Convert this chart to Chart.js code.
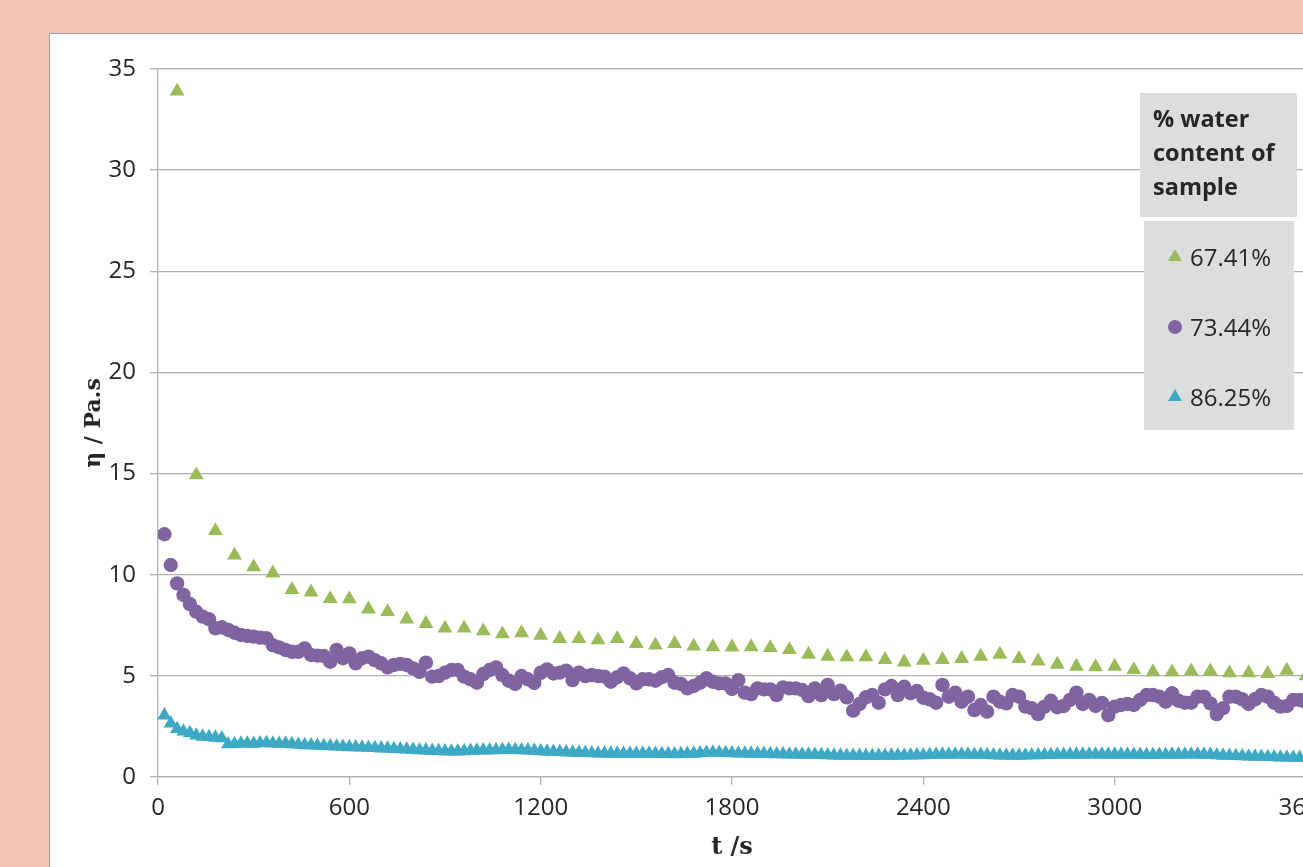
<!DOCTYPE html>
<html>
<head>
<meta charset="utf-8">
<title>Viscosity vs time</title>
<script src="https://cdn.jsdelivr.net/npm/chart.js@4.4.1/dist/chart.umd.min.js"></script>
<style>
  html, body { margin: 0; padding: 0; }
  body { width: 1303px; height: 867px; overflow: hidden; background: #F1C4B5; position: relative; }
  #panel { position: absolute; left: 49px; top: 33px; width: 1400px; height: 900px;
           background: #FFFFFF; border-left: 1px solid #A3A3A3; border-top: 1px solid #A3A3A3; }
  #chart { position: absolute; left: 0; top: 0; }
</style>
</head>
<body>
<div id="panel"></div>
<canvas id="chart" width="1400" height="900"></canvas>
<script>
"use strict";

// ── Sample times (s) ──
const T_FINE = [
  20, 40, 60, 80, 100, 120, 140, 160, 180, 200,
  220, 240, 260, 280, 300, 320, 340, 360, 380, 400,
  420, 440, 460, 480, 500, 520, 540, 560, 580, 600,
  620, 640, 660, 680, 700, 720, 740, 760, 780, 800,
  820, 840, 860, 880, 900, 920, 940, 960, 980, 1000,
  1020, 1040, 1060, 1080, 1100, 1120, 1140, 1160, 1180, 1200,
  1220, 1240, 1260, 1280, 1300, 1320, 1340, 1360, 1380, 1400,
  1420, 1440, 1460, 1480, 1500, 1520, 1540, 1560, 1580, 1600,
  1620, 1640, 1660, 1680, 1700, 1720, 1740, 1760, 1780, 1800,
  1820, 1840, 1860, 1880, 1900, 1920, 1940, 1960, 1980, 2000,
  2020, 2040, 2060, 2080, 2100, 2120, 2140, 2160, 2180, 2200,
  2220, 2240, 2260, 2280, 2300, 2320, 2340, 2360, 2380, 2400,
  2420, 2440, 2460, 2480, 2500, 2520, 2540, 2560, 2580, 2600,
  2620, 2640, 2660, 2680, 2700, 2720, 2740, 2760, 2780, 2800,
  2820, 2840, 2860, 2880, 2900, 2920, 2940, 2960, 2980, 3000,
  3020, 3040, 3060, 3080, 3100, 3120, 3140, 3160, 3180, 3200,
  3220, 3240, 3260, 3280, 3300, 3320, 3340, 3360, 3380, 3400,
  3420, 3440, 3460, 3480, 3500, 3520, 3540, 3560, 3580, 3600
];

const T_COARSE = [
  60, 120, 180, 240, 300, 360, 420, 480, 540, 600,
  660, 720, 780, 840, 900, 960, 1020, 1080, 1140, 1200,
  1260, 1320, 1380, 1440, 1500, 1560, 1620, 1680, 1740, 1800,
  1860, 1920, 1980, 2040, 2100, 2160, 2220, 2280, 2340, 2400,
  2460, 2520, 2580, 2640, 2700, 2760, 2820, 2880, 2940, 3000,
  3060, 3120, 3180, 3240, 3300, 3360, 3420, 3480, 3540, 3600
];

// ── Viscosity (Pa.s) per sample ──
const ETA_6741 = [
  33.9, 14.93, 12.17, 10.96, 10.38, 10.08, 9.26, 9.14, 8.81, 8.8,
  8.3, 8.17, 7.8, 7.58, 7.35, 7.35, 7.22, 7.07, 7.12, 7.0,
  6.84, 6.84, 6.77, 6.84, 6.59, 6.51, 6.59, 6.46, 6.43, 6.42,
  6.43, 6.39, 6.29, 6.06, 5.96, 5.93, 5.93, 5.8, 5.68, 5.76,
  5.8, 5.85, 5.96, 6.06, 5.85, 5.73, 5.57, 5.47, 5.44, 5.47,
  5.3, 5.19, 5.19, 5.24, 5.24, 5.14, 5.14, 5.11, 5.27, 5.0
];

const ETA_7344 = [
  12.0, 10.48, 9.57, 9.0, 8.55, 8.17, 7.93, 7.8, 7.35, 7.4,
  7.27, 7.13, 7.02, 6.97, 6.94, 6.89, 6.86, 6.52, 6.41, 6.28,
  6.19, 6.19, 6.36, 6.03, 6.0, 5.98, 5.7, 6.28, 5.87, 6.11,
  5.62, 5.87, 5.95, 5.78, 5.62, 5.42, 5.54, 5.59, 5.54, 5.37,
  5.2, 5.65, 4.96, 4.99, 5.16, 5.29, 5.29, 4.96, 4.83, 4.66,
  5.09, 5.29, 5.42, 5.04, 4.76, 4.6, 4.99, 4.83, 4.65, 5.15,
  5.32, 5.12, 5.16, 5.26, 4.79, 5.16, 4.99, 5.04, 4.99, 4.96,
  4.71, 4.93, 5.12, 4.88, 4.63, 4.83, 4.83, 4.76, 4.93, 5.04,
  4.66, 4.6, 4.38, 4.5, 4.66, 4.88, 4.71, 4.63, 4.62, 4.35,
  4.79, 4.17, 4.1, 4.38, 4.33, 4.33, 4.05, 4.43, 4.38, 4.38,
  4.3, 4.0, 4.38, 4.05, 4.55, 4.1, 4.27, 3.94, 3.28, 3.61,
  3.94, 4.05, 3.67, 4.33, 4.5, 4.05, 4.46, 4.14, 4.25, 3.92,
  3.84, 3.67, 4.55, 3.97, 4.17, 3.72, 3.97, 3.31, 3.56, 3.23,
  3.97, 3.72, 3.64, 4.05, 3.97, 3.48, 3.4, 3.11, 3.48, 3.77,
  3.45, 3.51, 3.81, 4.17, 3.61, 3.81, 3.51, 3.66, 3.06, 3.48,
  3.56, 3.61, 3.56, 3.81, 4.05, 4.05, 3.97, 3.72, 4.14, 3.77,
  3.67, 3.67, 3.97, 3.97, 3.64, 3.11, 3.4, 3.97, 3.97, 3.84,
  3.61, 3.84, 4.05, 3.97, 3.67, 3.48, 3.51, 3.81, 3.81, 3.7
];

const ETA_8625 = [
  3.05, 2.65, 2.38, 2.25, 2.18, 2.06, 2.0, 1.98, 1.95, 1.92,
  1.62, 1.64, 1.66, 1.66, 1.65, 1.67, 1.68, 1.66, 1.65, 1.66,
  1.63, 1.6, 1.58, 1.57, 1.55, 1.54, 1.52, 1.51, 1.5, 1.48,
  1.47, 1.46, 1.45, 1.44, 1.42, 1.41, 1.39, 1.38, 1.36, 1.35,
  1.33, 1.32, 1.3, 1.29, 1.27, 1.26, 1.27, 1.28, 1.3, 1.31,
  1.32, 1.33, 1.33, 1.34, 1.35, 1.34, 1.33, 1.32, 1.3, 1.28,
  1.26, 1.25, 1.24, 1.22, 1.21, 1.2, 1.19, 1.18, 1.17, 1.17,
  1.16, 1.16, 1.15, 1.15, 1.15, 1.16, 1.16, 1.15, 1.14, 1.14,
  1.13, 1.14, 1.15, 1.16, 1.18, 1.2, 1.21, 1.2, 1.19, 1.18,
  1.17, 1.17, 1.16, 1.15, 1.15, 1.14, 1.13, 1.13, 1.12, 1.12,
  1.11, 1.11, 1.1, 1.09, 1.08, 1.07, 1.06, 1.05, 1.05, 1.05,
  1.04, 1.04, 1.05, 1.05, 1.06, 1.06, 1.07, 1.07, 1.08, 1.08,
  1.09, 1.1, 1.11, 1.11, 1.12, 1.12, 1.11, 1.1, 1.1, 1.09,
  1.08, 1.07, 1.07, 1.06, 1.06, 1.07, 1.08, 1.08, 1.09, 1.09,
  1.1, 1.1, 1.11, 1.11, 1.11, 1.12, 1.12, 1.12, 1.11, 1.11,
  1.11, 1.1, 1.1, 1.1, 1.09, 1.09, 1.1, 1.1, 1.11, 1.11,
  1.12, 1.12, 1.12, 1.11, 1.1, 1.08, 1.06, 1.05, 1.04, 1.03,
  1.02, 1.01, 1.0, 0.99, 0.98, 0.97, 0.97, 0.96, 0.96, 0.95
];

const SERIES_LABELS = ["67.41%", "73.44%", "86.25%"];
const X_TICKS = [0, 600, 1200, 1800, 2400, 3000, 3600];
const Y_TICKS = [0, 5, 10, 15, 20, 25, 30, 35];

// ── Styling ──
const GREEN  = "#9BBB59";
const PURPLE = "#8064A2";
const CYAN   = "#3DA9C4";
const GRID   = "#B0B0B0";
const TEXT   = "#262626";
const SANS   = "'Open Sans', 'DejaVu Sans', sans-serif";
const SERIF  = "'DejaVu Serif', 'Liberation Serif', serif";

const pairs = (xs, ys) => xs.map((x, i) => ({ x, y: ys[i] }));

// legend drawn as two grey boxes: title box + series box
const waterLegend = {
  id: "waterLegend",
  afterDraw(chart) {
    const ctx = chart.ctx;
    ctx.save();
    ctx.fillStyle = "#DCDDDF";
    ctx.fillRect(1140, 93, 157, 124);
    ctx.fillRect(1144, 221, 150, 209);

    ctx.fillStyle = TEXT;
    ctx.textAlign = "left";
    ctx.textBaseline = "alphabetic";
    ctx.font = "bold 23.5px " + SANS;
    ["% water", "content of", "sample"].forEach((line, i) => {
      ctx.fillText(line, 1153, 127 + i * 34);
    });

    ctx.font = "24px " + SANS;
    chart.data.datasets.forEach((ds, i) => {
      const cy = 257 + i * 70;
      ctx.fillStyle = ds.backgroundColor;
      Chart.helpers.drawPoint(ctx, {
        pointStyle: ds.pointStyle,
        radius: ds.pointStyle === "circle" ? 7 : 8,
        rotation: 0,
        borderWidth: 0
      }, 1175, cy);
      ctx.fillStyle = TEXT;
      ctx.fillText(ds.label, 1190, cy + 8.5);
    });
    ctx.restore();
  }
};

const ctx = document.getElementById("chart").getContext("2d");
new Chart(ctx, {
  type: "scatter",
  data: {
    datasets: [
      { label: SERIES_LABELS[0], data: pairs(T_COARSE, ETA_6741), pointStyle: "triangle",
        backgroundColor: GREEN, pointBackgroundColor: GREEN, pointRadius: 8.6, pointBorderWidth: 0 },
      { label: SERIES_LABELS[1], data: pairs(T_FINE, ETA_7344), pointStyle: "circle",
        backgroundColor: PURPLE, pointBackgroundColor: PURPLE, pointRadius: 7.2, pointBorderWidth: 0 },
      { label: SERIES_LABELS[2], data: pairs(T_FINE, ETA_8625), pointStyle: "triangle",
        backgroundColor: CYAN, pointBackgroundColor: CYAN, pointRadius: 8.2, pointBorderWidth: 0 }
    ]
  },
  options: {
    responsive: false,
    animation: false,
    events: [],
    layout: { padding: { top: 69, right: 94, left: 0, bottom: 0 } },
    plugins: { legend: { display: false }, tooltip: { enabled: false } },
    scales: {
      x: {
        type: "linear",
        min: X_TICKS[0], max: X_TICKS[X_TICKS.length - 1],
        afterBuildTicks: s => { s.ticks = X_TICKS.map(v => ({ value: v })); },
        afterFit: s => { s.height = 123; },
        ticks: { color: TEXT, font: { family: SANS, size: 24 }, padding: 9, maxRotation: 0,
                 callback: v => String(v) },
        grid: { drawOnChartArea: false, tickLength: 8, color: GRID, lineWidth: 1.3 },
        border: { color: GRID, width: 1.3 },
        title: { display: true, text: "t /s", color: TEXT,
                 font: { family: SERIF, size: 24, weight: "bold" }, padding: { top: 0, bottom: 38 } }
      },
      y: {
        min: Y_TICKS[0], max: Y_TICKS[Y_TICKS.length - 1],
        afterBuildTicks: s => { s.ticks = Y_TICKS.map(v => ({ value: v })); },
        afterFit: s => { s.width = 158; },
        ticks: { color: TEXT, font: { family: SANS, size: 24 }, padding: 14,
                 callback: v => String(v) },
        grid: { tickLength: 8, color: GRID, lineWidth: 1.3 },
        border: { color: GRID, width: 1.3 },
        title: { display: true, text: "η / Pa.s", color: TEXT,
                 font: { family: SERIF, size: 22, weight: "bold" }, padding: { top: 81, bottom: 0 } }
      }
    }
  },
  plugins: [waterLegend]
});
</script>
</body>
</html>
